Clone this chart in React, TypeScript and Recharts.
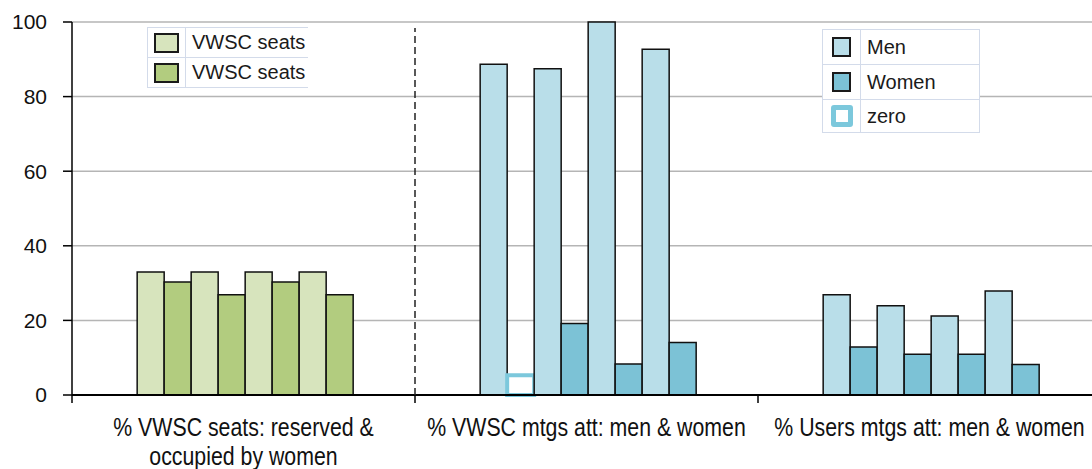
import React from 'react';
import { BarChart, Bar, Cell, XAxis, YAxis, CartesianGrid } from 'recharts';

// categories (\n marks where the label wraps)
const categories = [
	'% VWSC seats: reserved &\noccupied by women',
	'% VWSC mtgs att: men & women',
	'% Users mtgs att: men & women',
];

// first bar of each pair: seats reserved / men
const seatsReserved = [33, 33, 33, 33];
const vwscMen = [88.7, 87.5, 100, 92.7];
const usersMen = [26.9, 23.9, 21.2, 27.9];

// second bar of each pair: seats occupied / women (0 = drawn as "zero" marker)
const seatsOccupied = [30.3, 26.9, 30.3, 26.9];
const vwscWomen = [0, 19.2, 8.3, 14.1];
const usersWomen = [12.9, 10.9, 10.9, 8.2];

const ZERO_MARK = 5.3; // height shown for a zero value
const yTicks = [0, 20, 40, 60, 80, 100];

const firstBars = [seatsReserved, vwscMen, usersMen];
const secondBars = [seatsOccupied, vwscWomen, usersWomen];
const PAIRS = 4;

const data = categories.map((name, i) => {
	const row: Record<string, unknown> = { name };
	for (let j = 0; j < PAIRS; j++) {
		const w = secondBars[i][j];
		row[`a${j}`] = firstBars[i][j];
		row[`b${j}`] = w === 0 ? ZERO_MARK : w;
		row[`z${j}`] = w === 0;
	}
	return row;
});

const FONT = '"Liberation Sans", Arial, sans-serif';
const CHART_W = 1110;
const CHART_H = 469;
const LEFT = 72;
const RIGHT_MARGIN = 9;
const BAND = (CHART_W - LEFT - RIGHT_MARGIN) / categories.length;

const LIGHT_GREEN = '#d7e4bd';
const DARK_GREEN = '#b2cc7f';
const LIGHT_BLUE = '#b9dee9';
const DARK_BLUE = '#7cc2d6';
const ZERO_BLUE = '#7cc8dc';

function CategoryTick(props: any) {
	const { x, y, payload, index } = props;
	const lines = String(payload.value).split('\n');
	const half = BAND / 2;
	return (
		<g>
			<line x1={x + half} y1={y} x2={x + half} y2={y + 8} stroke="#000" strokeWidth={1.5} />
			{index === 0 && (
				<>
					<line x1={x - half} y1={y} x2={x - half} y2={y + 8} stroke="#000" strokeWidth={1.5} />
					{/* dashed separator after the first group */}
					<line
						x1={x + half}
						y1={y}
						x2={x + half}
						y2={28}
						stroke="#222"
						strokeWidth={1.5}
						strokeDasharray="7 4"
					/>
				</>
			)}
			{lines.map((ln, k) => (
				<text
					key={k}
					transform={`translate(${x},${y + 41 + k * 29}) scale(0.82,1)`}
					textAnchor="middle"
					fontSize={26}
					fontFamily={FONT}
					fill="#111"
				>
					{ln}
				</text>
			))}
		</g>
	);
}

const legendBorder = '1px solid #d3dbea';

function Swatch({ fill, w, h, zero }: { fill: string; w: number; h: number; zero?: boolean }) {
	return (
		<div
			style={{
				width: w,
				height: h,
				boxSizing: 'border-box',
				background: zero ? '#fff' : fill,
				border: zero ? `5px solid ${ZERO_BLUE}` : '2px solid #1a1a1a',
				borderRadius: zero ? 3 : 0,
			}}
		/>
	);
}

function LegendBox({
	left,
	top,
	width,
	rowH,
	items,
	openRight,
}: {
	left: number;
	top: number;
	width: number;
	rowH: number[];
	items: { label: string; fill: string; w: number; h: number; zero?: boolean }[];
	openRight?: boolean;
}) {
	return (
		<div
			style={{
				position: 'absolute',
				left,
				top,
				width,
				borderTop: legendBorder,
				borderLeft: legendBorder,
				borderRight: openRight ? 'none' : legendBorder,
				background: '#fff',
				fontFamily: FONT,
				fontSize: 20,
				color: '#1a1a1a',
			}}
		>
			{items.map((it, i) => (
				<div
					key={i}
					style={{ display: 'flex', height: rowH[i], borderBottom: legendBorder, boxSizing: 'border-box' }}
				>
					<div
						style={{
							width: 37,
							flex: 'none',
							borderRight: legendBorder,
							display: 'flex',
							alignItems: 'center',
							justifyContent: 'center',
						}}
					>
						<Swatch fill={it.fill} w={it.w} h={it.h} zero={it.zero} />
					</div>
					<div style={{ paddingLeft: 6, display: 'flex', alignItems: 'center', whiteSpace: 'nowrap' }}>
						{it.label}
					</div>
				</div>
			))}
		</div>
	);
}

export default function App() {
	return (
		<div
			style={{
				position: 'absolute',
				left: 0,
				top: 0,
				width: 1092,
				height: 469,
				overflow: 'hidden',
				background: '#fff',
			}}
		>
			<BarChart
				width={CHART_W}
				height={CHART_H}
				data={data}
				margin={{ top: 22, right: RIGHT_MARGIN, bottom: 0, left: 0 }}
				barCategoryGap="19%"
				barGap={0}
			>
				<CartesianGrid vertical={false} stroke="#b5b5b5" strokeWidth={1.5} />
				<XAxis
					dataKey="name"
					height={74}
					interval={0}
					tickLine={false}
					tickSize={0}
					tickMargin={0}
					axisLine={{ stroke: '#000', strokeWidth: 2 }}
					tick={<CategoryTick />}
				/>
				<YAxis
					width={LEFT}
					domain={[0, 100]}
					ticks={yTicks}
					interval={0}
					tickSize={9}
					tickMargin={16}
					tickLine={{ stroke: '#000', strokeWidth: 1.5 }}
					axisLine={{ stroke: '#000', strokeWidth: 1.5 }}
					tick={{ fontSize: 21, fill: '#111', fontFamily: FONT }}
				/>
				{Array.from({ length: PAIRS }).flatMap((_, j) => [
					<Bar key={`a${j}`} dataKey={`a${j}`} stroke="#111" strokeWidth={1.5} isAnimationActive={false}>
						{data.map((_, i) => (
							<Cell key={i} fill={i === 0 ? LIGHT_GREEN : LIGHT_BLUE} />
						))}
					</Bar>,
					<Bar key={`b${j}`} dataKey={`b${j}`} stroke="#111" strokeWidth={1.5} isAnimationActive={false}>
						{data.map((row, i) =>
							row[`z${j}`] ? (
								<Cell key={i} fill="#fff" stroke={ZERO_BLUE} strokeWidth={4} />
							) : (
								<Cell key={i} fill={i === 0 ? DARK_GREEN : DARK_BLUE} />
							),
						)}
					</Bar>,
				])}
			</BarChart>
			<LegendBox
				left={147}
				top={27}
				width={160}
				rowH={[30, 30]}
				openRight
				items={[
					{ label: 'VWSC seats', fill: LIGHT_GREEN, w: 25, h: 20 },
					{ label: 'VWSC seats', fill: DARK_GREEN, w: 25, h: 20 },
				]}
			/>
			<LegendBox
				left={822}
				top={29}
				width={156}
				rowH={[35, 35, 33]}
				items={[
					{ label: 'Men', fill: LIGHT_BLUE, w: 19, h: 20 },
					{ label: 'Women', fill: DARK_BLUE, w: 19, h: 20 },
					{ label: 'zero', fill: '#fff', w: 22, h: 22, zero: true },
				]}
			/>
		</div>
	);
}
